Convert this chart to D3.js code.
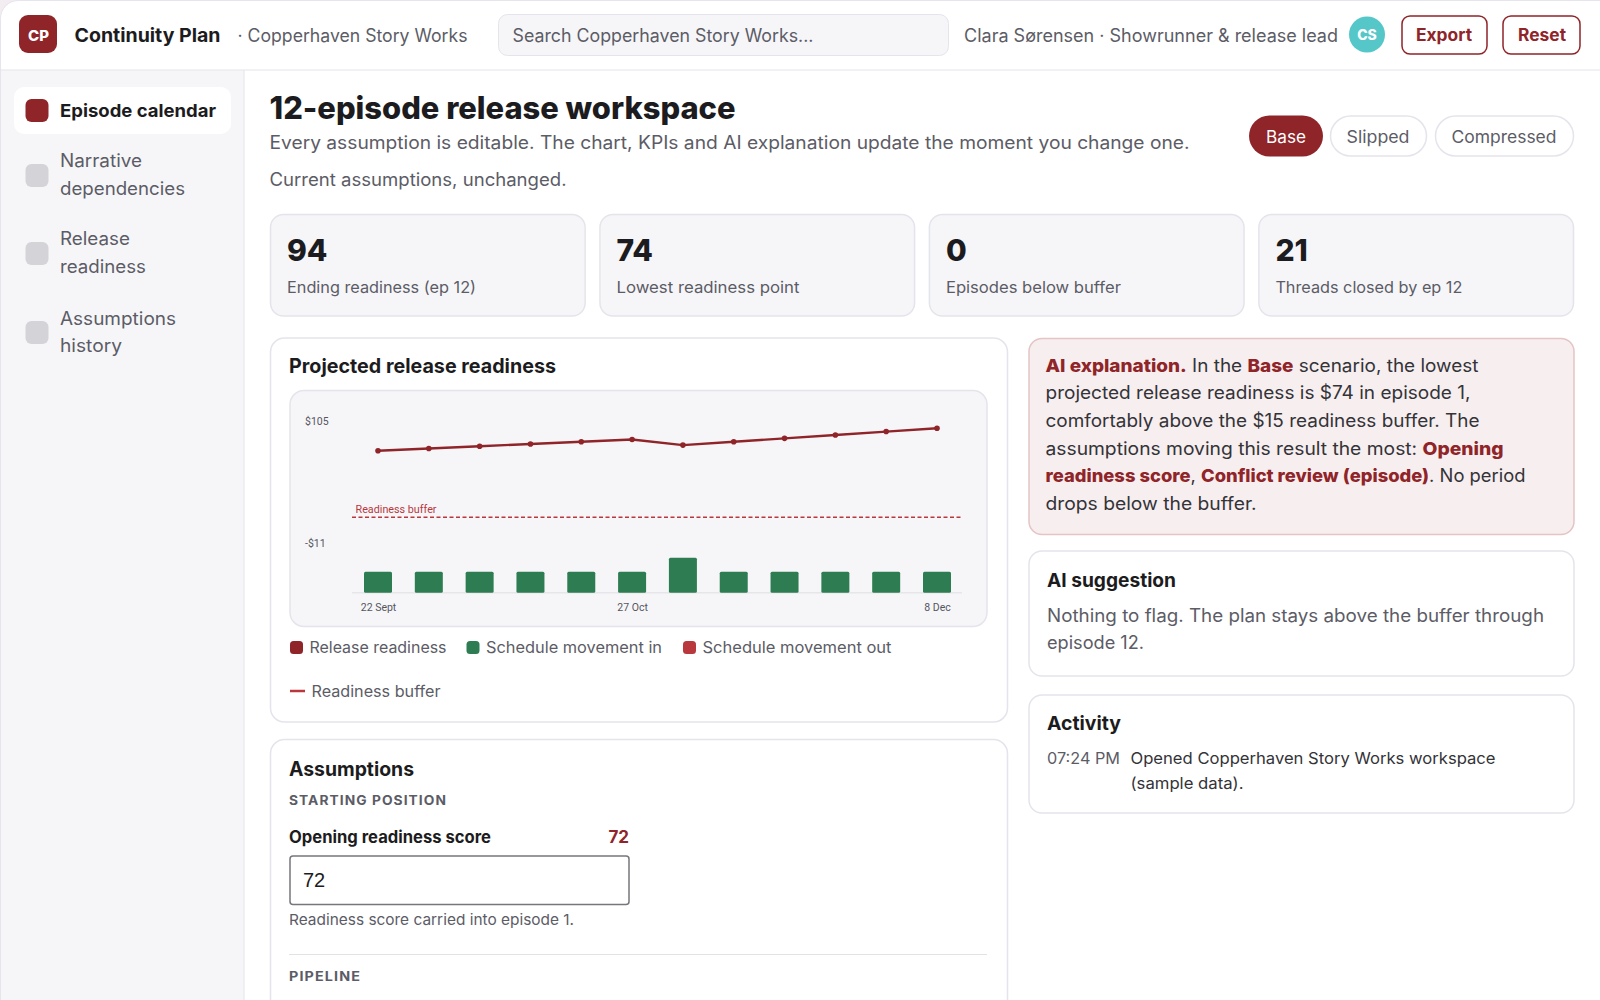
<!DOCTYPE html>
<html>
<head>
<meta charset="utf-8">
<title>Continuity Plan</title>
<script src="https://cdn.jsdelivr.net/npm/d3@7"></script>
<style>
    html, body { margin: 0; padding: 0; background: #f3edf1; overflow: hidden; }
    svg { display: block; font-family: Inter, "Noto Sans", sans-serif; }
</style>
</head>
<body>
<div id="app"></div>
<script>
// chart values
const episodes = ["22 Sept", "29 Sept", "6 Oct", "13 Oct", "20 Oct", "27 Oct", "3 Nov", "10 Nov", "17 Nov", "24 Nov", "1 Dec", "8 Dec"];
const readiness = [74, 76, 78, 80, 82, 84, 79, 82, 85, 88, 91, 94];
const movementIn = [3, 3, 3, 3, 3, 3, 5, 3, 3, 3, 3, 3];
const movementOut = [0, 0, 0, 0, 0, 0, 0, 0, 0, 0, 0, 0];
const readinessBuffer = 15;
const yTickValues = [105, -11];
const xTickLabels = ["22 Sept", "27 Oct", "8 Dec"];

// page values
const kpiValues = ["94", "74", "0", "21"];
const kpiLabels = ["Ending readiness (ep 12)", "Lowest readiness point", "Episodes below buffer", "Threads closed by ep 12"];
const legendLabels = ["Release readiness", "Schedule movement in", "Schedule movement out"];

const red = "#8f2429", redLight = "#b8383d", green = "#2e7d52";
const ink = "#1c1c20", gray = "#5c5c66", line = "#e4e4ec", soft = "#f6f6f9", body = "#333338";

const svg = d3.select("#app").append("svg").attr("width", 1600).attr("height", 1000);

// text helper, w is the width the string has to fill
function txt(parent, x, y, str, o = {}) {
    let t = parent.append("text")
        .attr("x", x)
        .attr("y", y)
        .attr("dy", "0.35em")
        .attr("font-size", o.size || 18)
        .attr("font-weight", o.weight || 400)
        .attr("fill", o.fill || gray)
        .attr("text-anchor", o.anchor || "start")
        .text(str);
    if (o.font) t.style("font-family", o.font);
    if (o.spacing) t.attr("letter-spacing", o.spacing);
    if (o.w) t.attr("textLength", o.w).attr("lengthAdjust", "spacingAndGlyphs");
    return t;
}

function box(parent, x, y, w, h, r, fill, stroke, sw = 1) {
    return parent.append("rect")
        .attr("x", x).attr("y", y).attr("width", w).attr("height", h).attr("rx", r)
        .attr("fill", fill).attr("stroke", stroke || "none").attr("stroke-width", sw);
}

// app shell
box(svg, 0.5, 0.5, 1640, 1100, 18, "#fff", "#e6e4ec");
svg.append("path").attr("d", "M1 70 H244 V1000 H1 Z").attr("fill", soft);
svg.append("line").attr("x1", 244).attr("x2", 244).attr("y1", 70).attr("y2", 1000).attr("stroke", line);
svg.append("line").attr("x1", 0).attr("x2", 1600).attr("y1", 70).attr("y2", 70).attr("stroke", line);

// top bar
box(svg, 19, 15, 38, 38, 9, red);
txt(svg, 38.5, 35.5, "CP", { size: 15, weight: 800, fill: "#fff", anchor: "middle" });
txt(svg, 74.5, 35, "Continuity Plan", { size: 19, weight: 700, fill: ink, w: 146 });
txt(svg, 237.5, 35.5, "· Copperhaven Story Works", { size: 18, w: 230 });
box(svg, 498.5, 14.5, 450, 41, 9, soft, line);
txt(svg, 512.5, 35.5, "Search Copperhaven Story Works...", { size: 18, w: 301 });
txt(svg, 964, 35.5, "Clara Sørensen · Showrunner & release lead", { size: 18, w: 374 });
svg.append("circle").attr("cx", 1367).attr("cy", 34.5).attr("r", 18).attr("fill", "#55c7c9");
txt(svg, 1367, 35, "CS", { size: 14, weight: 800, fill: "#fff", anchor: "middle" });
box(svg, 1402, 16, 85, 38, 8, "#fff", red, 1.5);
txt(svg, 1416, 35.5, "Export", { size: 17, weight: 700, fill: red, w: 56 });
box(svg, 1503, 16, 77, 38, 8, "#fff", red, 1.5);
txt(svg, 1518, 35.5, "Reset", { size: 17, weight: 700, fill: red, w: 48 });

// sidebar
box(svg, 14, 87, 217, 47, 10, "#fff");
box(svg, 25.5, 99, 23, 23, 6, red);
box(svg, 25.5, 164, 23, 23, 6, "#d3d3d8");
box(svg, 25.5, 242, 23, 23, 6, "#d3d3d8");
box(svg, 25.5, 321, 23, 23, 6, "#d3d3d8");
txt(svg, 60, 111, "Episode calendar", { size: 18, weight: 700, fill: ink, w: 156 });
txt(svg, 60, 161, "Narrative", { w: 82 });
txt(svg, 60, 189, "dependencies", { w: 125 });
txt(svg, 60, 239, "Release", { w: 70 });
txt(svg, 60, 267, "readiness", { w: 86 });
txt(svg, 60, 319, "Assumptions", { w: 116 });
txt(svg, 60, 346, "history", { w: 62 });

// heading
txt(svg, 269.5, 108, "12-episode release workspace", { size: 31, weight: 800, fill: ink, w: 466 });
txt(svg, 269.5, 143, "Every assumption is editable. The chart, KPIs and AI explanation update the moment you change one.", { w: 920 });
txt(svg, 269.5, 180, "Current assumptions, unchanged.", { w: 297 });

// scenario pills
box(svg, 1249, 115.5, 74, 41, 20.5, red);
txt(svg, 1266, 137, "Base", { size: 17, fill: "#fff", w: 40 });
box(svg, 1330.5, 116, 96, 40, 20, "#fff", line, 1.5);
txt(svg, 1346.5, 137, "Slipped", { size: 17, w: 63 });
box(svg, 1435.5, 116, 138, 40, 20, "#fff", line, 1.5);
txt(svg, 1451.5, 137, "Compressed", { size: 17, w: 105 });

// KPI cards
const kpiX = d3.scaleBand().domain(d3.range(kpiValues.length)).range([270, 1574]).paddingInner(0.042);
const kpiLabelW = [189, 183, 175, 187];
kpiValues.forEach((v, i) => {
    box(svg, kpiX(i) + 0.5, 214.5, kpiX.bandwidth() - 1, 101.5, 13, soft, line, 1.5);
    txt(svg, kpiX(i) + 17, 250, v, { size: 30, weight: 800, fill: ink });
    txt(svg, kpiX(i) + 17, 287, kpiLabels[i], { size: 16, w: kpiLabelW[i] });
});

// chart card
box(svg, 270.5, 338, 737, 384, 14, "#fff", line, 1.5);
txt(svg, 289, 366, "Projected release readiness", { size: 20, weight: 700, fill: ink, w: 267 });
box(svg, 290, 390.5, 697, 236, 14, soft, line, 1.5);

const x = d3.scalePoint().domain(episodes).range([378, 937]);
const y = d3.scaleLinear().domain([-11, 105]).range([546.5, 415.8]);
const yBar = d3.scaleLinear().domain([0, 5]).range([592.7, 557.7]);
// the two axis labels sit a little inside the plotted range
const yLabel = d3.scaleLinear().domain([-11, 105]).range([543.3, 421]);
const plotLeft = 352, plotRight = 962, barWidth = 28;

const chart = svg.append("g");

chart.append("line")
    .attr("x1", plotLeft).attr("x2", plotRight)
    .attr("y1", yBar(0)).attr("y2", yBar(0))
    .attr("stroke", "#e5e5ea").attr("stroke-width", 1.5);

chart.selectAll(".barIn")
    .data(episodes)
    .enter()
    .append("rect")
    .attr("class", "barIn")
    .attr("x", d => x(d) - barWidth / 2)
    .attr("y", (d, i) => yBar(movementIn[i]))
    .attr("width", barWidth)
    .attr("height", (d, i) => yBar(0) - yBar(movementIn[i]))
    .attr("rx", 1.5)
    .attr("fill", green);

chart.selectAll(".barOut")
    .data(episodes.filter((d, i) => movementOut[i] > 0))
    .enter()
    .append("rect")
    .attr("class", "barOut")
    .attr("x", d => x(d) - barWidth / 2)
    .attr("y", yBar(0))
    .attr("width", barWidth)
    .attr("height", d => yBar(movementOut[episodes.indexOf(d)]) - yBar(0))
    .attr("fill", redLight);

// buffer line
chart.append("line")
    .attr("x1", plotLeft).attr("x2", plotRight)
    .attr("y1", y(readinessBuffer)).attr("y2", y(readinessBuffer))
    .attr("stroke", redLight).attr("stroke-width", 1.5).attr("stroke-dasharray", "4 2.5");
txt(chart, plotLeft + 3.5, y(readinessBuffer) - 8, "Readiness buffer", { size: 10.5, fill: redLight, w: 81, font: "Roboto" });

// readiness line
chart.append("path")
    .datum(readiness)
    .attr("fill", "none")
    .attr("stroke", red)
    .attr("stroke-width", 2.4)
    .attr("d", d3.line().x((d, i) => x(episodes[i])).y(d => y(d)));

chart.selectAll(".point")
    .data(readiness)
    .enter()
    .append("circle")
    .attr("class", "point")
    .attr("cx", (d, i) => x(episodes[i]))
    .attr("cy", d => y(d))
    .attr("r", 2.8)
    .attr("fill", red);

// axes
const yAxis = chart.append("g")
    .attr("transform", "translate(305,0)")
    .call(d3.axisRight(yLabel).tickValues(yTickValues).tickSize(0).tickPadding(0).tickFormat(d => (d < 0 ? "-$" : "$") + Math.abs(d)));
yAxis.select(".domain").remove();
yAxis.selectAll("text").attr("font-size", 10.5).attr("font-family", "Roboto").attr("fill", "#55555e");

const xAxis = chart.append("g")
    .attr("transform", "translate(0," + yBar(0) + ")")
    .call(d3.axisBottom(x).tickValues(xTickLabels).tickSize(0).tickPadding(11));
xAxis.select(".domain").remove();
xAxis.selectAll("text").attr("font-size", 10.5).attr("font-family", "Roboto").attr("fill", "#55555e");

// legend
const legendSwatchX = [290, 466.5, 683];
const legendColors = [red, green, redLight];
const legendTextW = [137, 176, 189];
legendLabels.forEach((d, i) => {
    box(svg, legendSwatchX[i], 641, 13, 13, 3.5, legendColors[i]);
    txt(svg, legendSwatchX[i] + 19.5, 647.5, d, { size: 16, w: legendTextW[i] });
});
svg.append("line").attr("x1", 290).attr("x2", 305).attr("y1", 691).attr("y2", 691).attr("stroke", redLight).attr("stroke-width", 2.5);
txt(svg, 311.5, 691, "Readiness buffer", { size: 16, w: 129 });

// assumptions card
box(svg, 270.5, 739.5, 737, 320, 14, "#fff", line, 1.5);
txt(svg, 289, 769, "Assumptions", { size: 20, weight: 700, fill: ink, w: 125 });
txt(svg, 289, 800, "STARTING POSITION", { size: 13, weight: 700, spacing: 1, w: 158 });
txt(svg, 289, 837.5, "Opening readiness score", { size: 17, weight: 700, fill: ink, w: 202 });
txt(svg, 629, 837, "72", { size: 17, weight: 700, fill: red, anchor: "end" });
box(svg, 290, 856, 339, 48.5, 3, "#fff", "#76767c", 1.5);
txt(svg, 303, 879.5, "72", { size: 20, fill: ink, font: "Liberation Sans" });
txt(svg, 289, 919.5, "Readiness score carried into episode 1.", { size: 15, w: 285 });
svg.append("line").attr("x1", 289).attr("x2", 987).attr("y1", 954.5).attr("y2", 954.5).attr("stroke", "#e2e2e6");
txt(svg, 289, 976, "PIPELINE", { size: 13, weight: 700, spacing: 1, w: 72 });

// AI explanation, each line is a list of runs
const aiLines = [
    [["AI explanation.", 1], [" In the ", 0], ["Base", 1], [" scenario, the lowest", 0]],
    [["projected release readiness is $74 in episode 1,", 0]],
    [["comfortably above the $15 readiness buffer. The", 0]],
    [["assumptions moving this result the most: ", 0], ["Opening", 1]],
    [["readiness score", 1], [", ", 0], ["Conflict review (episode)", 1], [". No period", 0]],
    [["drops below the buffer.", 0]]
];
const aiLineY = [365.5, 393, 420.5, 449, 475.5, 504];
const aiLineW = [433, 425, 434, 458, 480, 211];

box(svg, 1029, 338.5, 545, 196, 13, "#f7eeef", "#e5c4c6", 1.5);
aiLines.forEach((runs, i) => {
    let t = txt(svg, 1045.5, aiLineY[i], null, { w: aiLineW[i], fill: body });
    runs.forEach(r => {
        t.append("tspan")
            .attr("font-weight", r[1] ? 800 : 400)
            .attr("fill", r[1] ? red : body)
            .text(r[0]);
    });
});

// AI suggestion
box(svg, 1029, 551, 545, 125, 13, "#fff", line, 1.5);
txt(svg, 1047, 580.5, "AI suggestion", { size: 19, weight: 700, fill: ink, w: 129 });
txt(svg, 1047, 615.5, "Nothing to flag. The plan stays above the buffer through", { w: 497 });
txt(svg, 1047, 643, "episode 12.", { w: 97 });

// activity
box(svg, 1029, 695, 545, 118, 13, "#fff", line, 1.5);
txt(svg, 1047, 723, "Activity", { size: 19, weight: 700, fill: ink, w: 74 });
txt(svg, 1047, 758.5, "07:24 PM", { size: 16, w: 73 });
txt(svg, 1130.5, 758.5, "Opened Copperhaven Story Works workspace", { size: 16, fill: body, w: 365 });
txt(svg, 1130.5, 783, "(sample data).", { size: 16, fill: body, w: 113 });
</script>
</body>
</html>
